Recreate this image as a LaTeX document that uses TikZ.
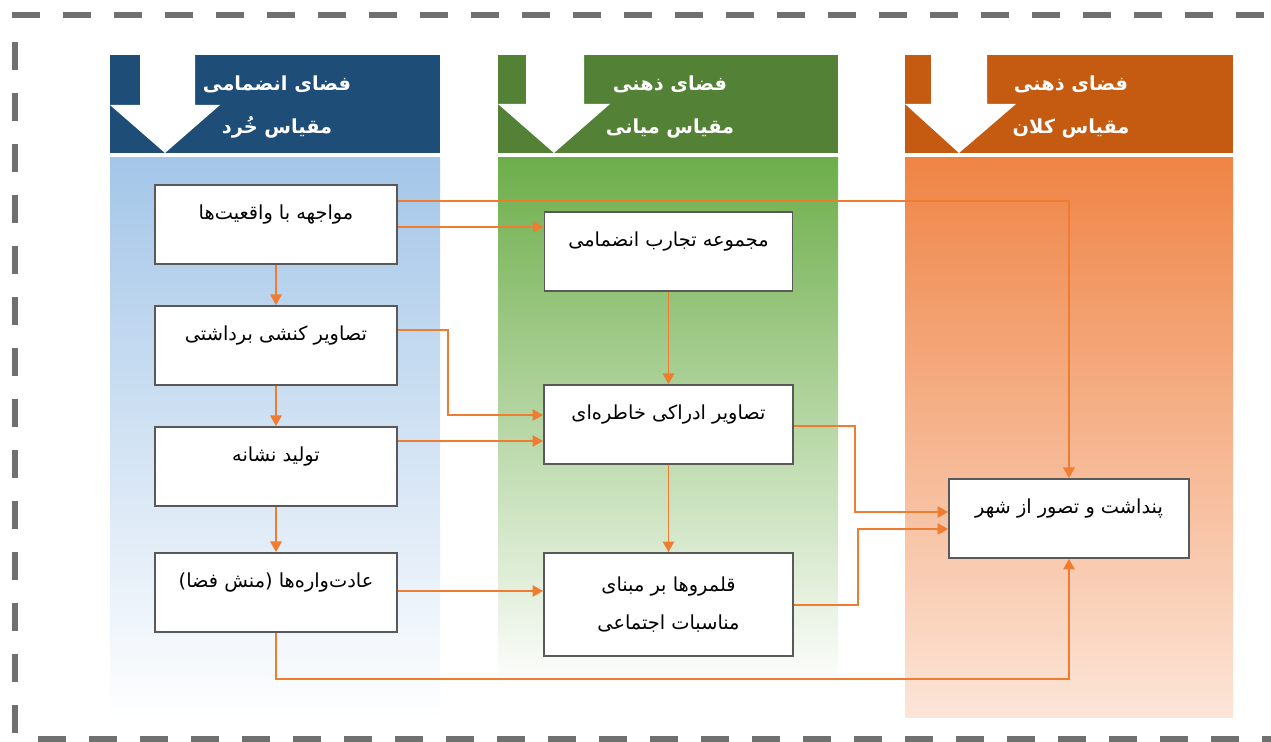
\documentclass[tikz,border=0pt]{standalone}
\usepackage{fontspec}
\newfontfamily\fafont[Script=Arabic]{DejaVu Sans}
\TeXXeTstate=1
\usetikzlibrary{arrows.meta}

\definecolor{headblue}{HTML}{1E4D78}
\definecolor{headgreen}{HTML}{538135}
\definecolor{headorange}{HTML}{C55A11}
\definecolor{bodyblue}{HTML}{A4C6E8}
\definecolor{bodygreen}{HTML}{6DAE4A}
\definecolor{midgreen}{HTML}{A3D08C}
\definecolor{bodyorange}{HTML}{EF8445}
\definecolor{paleorange}{HTML}{FCE5D8}
\definecolor{linkorange}{HTML}{EF7D31}
\definecolor{boxgray}{HTML}{595959}
\definecolor{framegray}{HTML}{707070}

\newcommand{\fa}[1]{{\fafont\beginR #1\endR}}

\tikzset{
  headtext/.style={text=white, align=center, font=\fafont\bfseries\fontsize{11}{24}\selectfont},
  stagebox/.style={draw=boxgray, line width=1.1pt, fill=white, minimum width=4.84cm,
    minimum height=1.58cm, inner sep=0pt, text height=0.70cm, text depth=0.88cm,
    font=\fafont\fontsize{11}{22}\selectfont},
  tallbox/.style={draw=boxgray, line width=1.1pt, fill=white, minimum width=4.98cm,
    minimum height=2.06cm, inner sep=0pt, align=center,
    font=\fafont\fontsize{11}{22}\selectfont},
  link/.style={draw=linkorange, line width=0.9pt, -{Triangle[length=6pt,width=6.5pt]}},
  frame/.style={draw=framegray, line width=3pt, dash pattern=on 0.56cm off 0.46cm},
}

\begin{document}
\begin{tikzpicture}[x=0.02cm, y=-0.02cm]
    \useasboundingbox (0,0) rectangle (1271,742);

    % Dashed frame
    \draw [frame] (12,15) -- (1271,15);
    \draw [frame] (15,42) -- (15,742);
    \draw [frame] (38,739) -- (1271,739);

    % Column bodies
    \shade [top color=bodyblue, bottom color=white] (110,158) rectangle (440,720);
    \shade [top color=bodygreen, middle color=midgreen, bottom color=white] (498,158) rectangle (838,690);
    \shade [top color=bodyorange, bottom color=paleorange] (905,158) rectangle (1233,717);

    % Column heads
    \fill [headblue] (110,55) rectangle (440,153);
    \fill [white] (140,55) -- (195,55) -- (195,105) -- (220,105) -- (165,153)
          -- (110,105) -- (140,105) -- cycle;
    \fill [headgreen] (498,55) rectangle (838,153);
    \fill [white] (526,55) -- (584,55) -- (584,104) -- (610,104) -- (554,153)
          -- (498,104) -- (526,104) -- cycle;
    \fill [headorange] (905,55) rectangle (1233,153);
    \fill [white] (931,55) -- (987,55) -- (987,104) -- (1016,104) -- (959,153)
          -- (905,104) -- (931,104) -- cycle;

    \node [headtext] (hsmall) at (277,107) {\fa{فضای انضمامی}\\\fa{مقیاس خُرد}};
    \node [headtext] (hmiddle) at (670,107) {\fa{فضای ذهنی}\\\fa{مقیاس میانی}};
    \node [headtext] (hlarge) at (1071,107) {\fa{فضای ذهنی}\\\fa{مقیاس کلان}};

    % Micro scale
    \node [stagebox] (face) at (276,224.5) {\fa{مواجهه با واقعیت‌ها}};
    \node [stagebox] (action) at (276,345.5) {\fa{تصاویر کنشی برداشتی}};
    \node [stagebox] (sign) at (276,466.5) {\fa{تولید نشانه}};
    \node [stagebox] (habit) at (276,592.5) {\fa{عادت‌واره‌ها (منش فضا)}};

    % Middle scale
    \node [stagebox, minimum width=4.96cm] (exper) at (668.5,251.5) {\fa{مجموعه تجارب انضمامی}};
    \node [stagebox, minimum width=4.98cm] (memory) at (668.5,424.5) {\fa{تصاویر ادراکی خاطره‌ای}};
    \node [tallbox] (realm) at (668.5,604.5) {\fa{قلمروها بر مبنای}\\\fa{مناسبات اجتماعی}};

    % Macro scale
    \node [stagebox, minimum width=4.8cm] (city) at (1069,518.5) {\fa{پنداشت و تصور از شهر}};

    % Edges
    \draw [link] (face) -- (action);
    \draw [link] (action) -- (sign);
    \draw [link] (sign) -- (habit);
    \draw [link] (exper) -- (memory);
    \draw [link] (memory) -- (realm);

    \draw [link] (face.east |- 0,227) -- (exper.west |- 0,227);
    \draw [link] (face.east |- 0,201) -| (city.north);
    \draw [link] (action.east |- 0,330) -| (448,415) -- (memory.west |- 0,415);
    \draw [link] (sign.east |- 0,441) -- (memory.west |- 0,441);
    \draw [link] (habit.east |- 0,591) -- (realm.west |- 0,591);
    \draw [link] (habit.south) -- ++(0,46) -| (city.south);
    \draw [link] (memory.east |- 0,426) -| (855,512) -- (city.west |- 0,512);
    \draw [link] (realm.east |- 0,605) -| (858,529) -- (city.west |- 0,529);
\end{tikzpicture}
\end{document}
